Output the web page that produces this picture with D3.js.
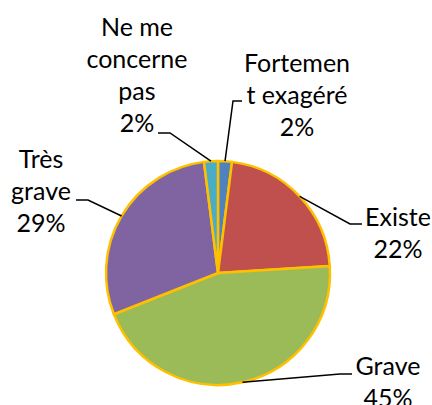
<!DOCTYPE html>
<html lang="fr">
<head>
    <meta charset="UTF-8">
    <title>Pie chart</title>
    <script src="https://d3js.org/d3.v7.min.js"></script>
    <style>
        body { margin: 0; background: #fff; }
        svg text { font-family: Lato, "Open Sans", sans-serif; fill: #000; }
    </style>
</head>
<body>
    <svg width="432" height="405"></svg>
    <script>
        // Data (clockwise from 12 o'clock)
        const categories = ["Fortement exagéré", "Existe", "Grave", "Très grave", "Ne me concerne pas"];
        const values = [2, 22, 45, 29, 2];
        const colors = ["#4F81BD", "#C0504D", "#9BBB59", "#8064A2", "#4BACC6"];
        // label lines as they wrap in the picture
        const labelLines = [
            ["Fortemen", "t exagéré"],
            ["Existe"],
            ["Grave"],
            ["Très", "grave"],
            ["Ne me", "concerne", "pas"]
        ];

        const svg = d3.select("svg");
        const cx = 218, cy = 273, r = 112;

        // label placement: text center x, first baseline y, leader elbow and end
        const layout = [
            { x: 297, y: 72, elbow: [233, 101], end: [242, 101] },
            { x: 398, y: 226, elbow: [350, 224], end: [362, 224] },
            { x: 388, y: 375, elbow: [340, 374], end: [352, 374] },
            { x: 41, y: 168, elbow: [88, 200], end: [76, 200] },
            { x: 137, y: 36, elbow: [170, 133], end: [158, 133] }
        ];

        const data = categories.map((c, i) => ({ name: c, value: values[i], color: colors[i], lines: labelLines[i], pos: layout[i] }));

        const pie = d3.pie().sort(null).value(d => d.value);
        const arc = d3.arc().innerRadius(0).outerRadius(r);
        const edge = d3.arc().innerRadius(r).outerRadius(r);
        const arcs = pie(data);

        const g = svg.append("g").attr("transform", `translate(${cx},${cy})`);

        g.selectAll("path.slice")
            .data(arcs)
            .join("path")
            .attr("class", "slice")
            .attr("d", arc)
            .attr("fill", d => d.data.color)
            .attr("stroke", "#FFC000")
            .attr("stroke-width", 2.5)
            .attr("stroke-linejoin", "round");

        // leader lines
        svg.selectAll("polyline.leader")
            .data(arcs)
            .join("polyline")
            .attr("class", "leader")
            .attr("points", d => {
                const c = edge.centroid(d);
                const p = d.data.pos;
                return [[c[0] + cx, c[1] + cy], p.elbow, p.end].map(q => q.join(",")).join(" ");
            })
            .attr("fill", "none")
            .attr("stroke", "#000")
            .attr("stroke-width", 1.5);

        // labels
        const fmt = d3.format(".0%");
        const total = d3.sum(values);
        const labels = svg.selectAll("text.label")
            .data(arcs)
            .join("text")
            .attr("class", "label")
            .attr("text-anchor", "middle")
            .attr("font-size", 25);

        labels.each(function (d) {
            const t = d3.select(this);
            const lines = d.data.lines.concat(fmt(d.data.value / total));
            lines.forEach((l, i) => {
                t.append("tspan")
                    .attr("x", d.data.pos.x)
                    .attr("y", d.data.pos.y + i * 32)
                    .text(l);
            });
        });
    </script>
</body>
</html>
